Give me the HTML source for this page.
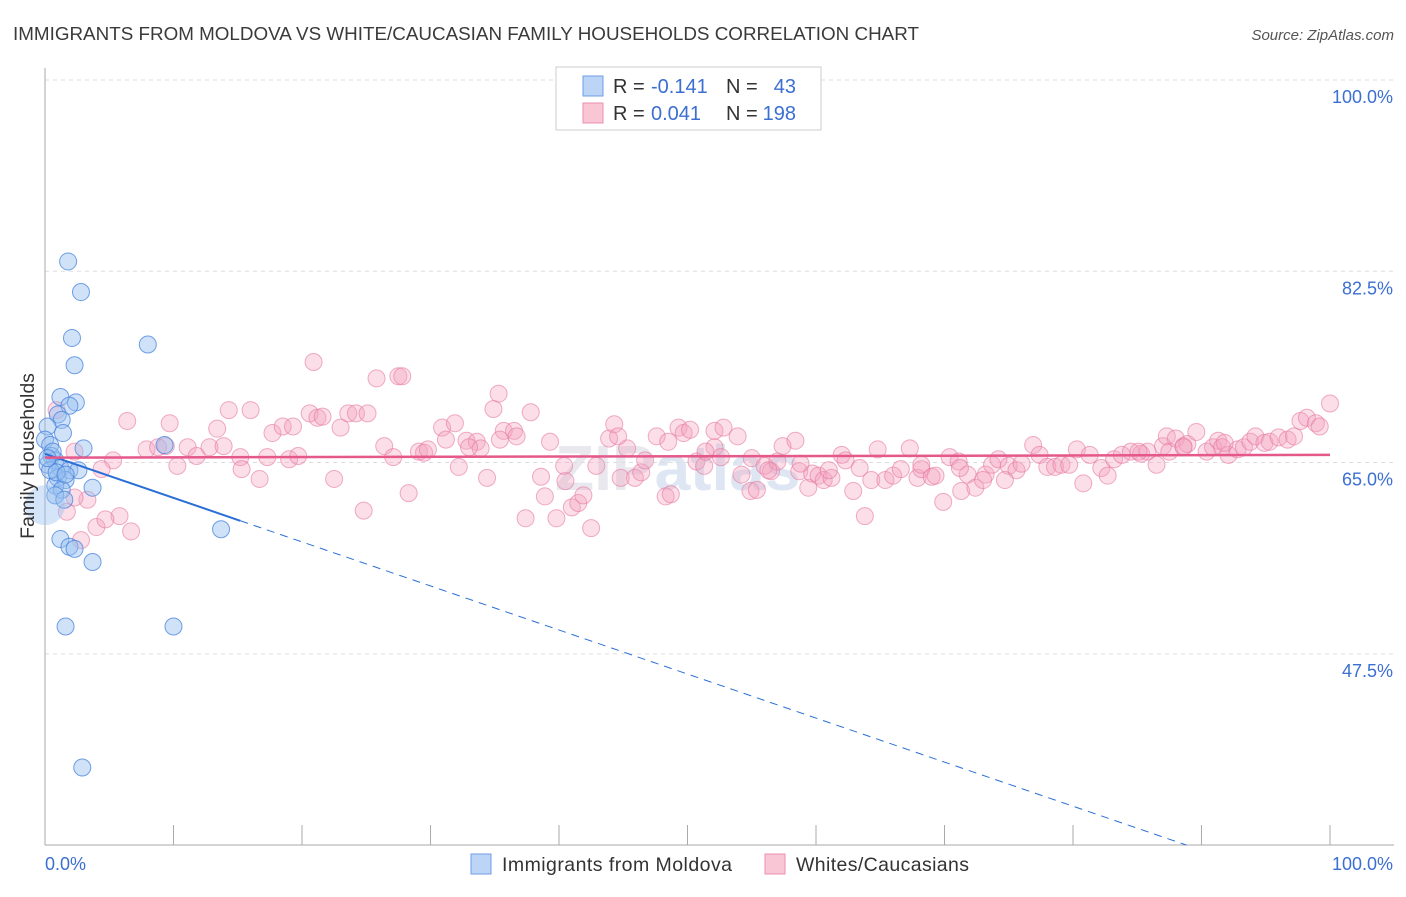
<!DOCTYPE html>
<html><head><meta charset="utf-8"><style>
body{margin:0;background:#fff;font-family:"Liberation Sans",sans-serif}
svg text{font-family:"Liberation Sans",sans-serif}
</style></head><body>
<svg id="chart" width="1406" height="892" xmlns="http://www.w3.org/2000/svg">
<text x="13" y="40" font-size="18" fill="#3a3a3a" textLength="906" lengthAdjust="spacingAndGlyphs">IMMIGRANTS FROM MOLDOVA VS WHITE/CAUCASIAN FAMILY HOUSEHOLDS CORRELATION CHART</text>
<text x="1394" y="40" font-size="15" fill="#555" text-anchor="end" font-style="italic">Source: ZipAtlas.com</text>
<text x="555" y="490" font-size="64" fill="#e8e8ee" font-weight="bold">ZIP<tspan fill="#dde6f2">atlas</tspan></text>
<g id="grid"></g>
<g id="axes"></g>
<g id="pink"></g>
<g id="blue"></g>
<g id="lines"></g>
<text transform="translate(34,456) rotate(-90)" font-size="19.5" fill="#333" text-anchor="middle">Family Households</text>
<g>
<rect x="556" y="67" width="265" height="63" fill="#fff" stroke="#ccc"/>
<rect x="583" y="76" width="20" height="20" fill="#bcd4f5" stroke="#6e9ee6"/>
<rect x="583" y="103" width="20" height="20" fill="#f9c6d6" stroke="#ec8fae"/>
<text x="613" y="93" font-size="20" fill="#333">R =</text>
<text x="651" y="93" font-size="20" fill="#3b6fd1">-0.141</text>
<text x="726" y="93" font-size="20" fill="#333">N =</text>
<text x="796" y="93" font-size="20" fill="#3b6fd1" text-anchor="end">43</text>
<text x="613" y="120" font-size="20" fill="#333">R =</text>
<text x="651" y="120" font-size="20" fill="#3b6fd1">0.041</text>
<text x="726" y="120" font-size="20" fill="#333">N =</text>
<text x="796" y="120" font-size="20" fill="#3b6fd1" text-anchor="end">198</text>
</g>
<g>
<rect x="471" y="854" width="20" height="20" fill="#bcd4f5" stroke="#6e9ee6"/>
<text x="502" y="871" font-size="19.5" fill="#333" textLength="230">Immigrants from Moldova</text>
<rect x="765" y="854" width="20" height="20" fill="#f9c6d6" stroke="#ec8fae"/>
<text x="796" y="871" font-size="19.5" fill="#333" textLength="173">Whites/Caucasians</text>
</g>
</svg>
<script>
const yTicks=[100,82.5,65,47.5];
const yTickLabels=["100.0%","82.5%","65.0%","47.5%"];
const blueX=[1.8,2.8,2.1,2.3,8.0,1.2,2.4,1.9,1.0,1.3,1.4,0.2,0,0.4,3.0,0.5,0.8,0.2,1.2,1.9,2.6,1.0,1.6,0.8,1.3,3.7,0.8,1.5,1.2,1.9,2.3,3.7,9.3,13.7,1.6,10.0,2.9,0.4,0.9,1.6,0.6,0.2];
const blueY=[83.4,80.6,76.4,73.9,75.8,71.0,70.5,70.2,69.4,68.9,67.7,68.3,67.1,66.6,66.3,65.6,65.2,64.8,64.5,64.3,64.3,63.6,63.4,62.9,62.5,62.7,62.0,61.6,58.0,57.3,57.1,55.9,66.6,58.9,50.0,50.0,37.1,64.3,64.1,63.9,66.0,65.4];
const blueBigX=[0]; const blueBigY=[61.1];
const pinkX=[6.4,5.3,4.4,2.3,0.9,1.7,4.0,5.8,6.7,4.7,3.3,2.3,2.8,7.9,8.8,9.7,9.4,10.3,11.1,11.8,12.8,13.9,13.4,14.3,15.2,15.3,16.0,16.7,17.7,17.3,18.5,19.3,19.0,19.7,20.6,20.9,21.2,21.6,22.5,23.0,23.6,24.2,25.1,24.8,25.8,26.4,27.1,27.5,27.8,28.3,29.1,29.5,29.8,30.9,31.2,31.9,32.2,32.8,33.6,33.9,34.4,34.9,35.3,35.7,36.5,36.7,37.8,37.4,38.9,39.3,39.8,40.4,40.5,41.0,41.5,41.9,42.5,42.9,43.9,44.3,44.8,45.3,45.9,46.4,46.7,47.6,48.3,48.7,49.3,49.7,50.2,50.7,51.3,52.1,52.1,52.6,52.8,53.9,54.2,54.9,55.0,55.4,56.0,56.5,57.0,57.4,58.4,58.7,59.4,59.7,60.2,60.6,61.2,62.0,62.3,62.9,63.8,64.3,64.8,65.4,66.0,66.6,67.3,67.9,68.2,69.0,69.3,69.9,70.4,71.1,71.3,71.8,72.4,73.2,73.7,74.2,75.0,75.6,76.0,76.9,77.4,78.0,78.6,79.1,80.3,80.8,81.3,82.2,82.7,83.2,83.8,84.5,85.3,85.8,86.5,87.0,87.3,87.5,88.0,88.6,88.9,89.6,90.4,90.9,91.3,91.6,92.1,92.8,93.3,93.8,94.2,94.9,95.3,96.0,96.7,97.2,97.7,98.2,98.9,100.0,99.2,91.8,88.6,85.1,79.7,74.7,73.0,71.2,68.2,63.4,61.0,58.8,56.3,51.4,48.5,44.6,38.6,35.4,33.0];
const pinkY=[68.8,65.2,64.4,66.0,69.8,60.5,59.1,60.1,58.7,59.8,61.6,61.8,57.9,66.2,66.4,68.6,66.5,64.7,66.4,65.6,66.4,66.5,68.1,69.8,65.5,64.4,69.8,63.5,67.7,65.5,68.3,68.3,65.3,65.6,69.5,74.2,69.1,69.2,63.5,68.2,69.5,69.5,69.5,60.6,72.7,66.5,65.5,72.9,72.9,62.2,66.0,65.9,66.2,68.2,67.1,68.6,64.6,67.0,66.9,66.3,63.6,69.9,71.3,67.9,67.9,67.4,69.6,59.9,61.9,66.9,59.9,64.7,63.3,60.9,61.3,62.0,59.0,64.7,67.2,68.5,63.6,66.3,63.6,64.1,65.2,67.4,61.9,62.1,68.2,67.7,68.0,65.1,64.7,66.4,67.9,65.5,68.2,67.4,63.9,62.4,65.4,62.5,64.7,64.2,65.1,66.5,67.0,64.2,62.7,64.0,63.8,63.4,63.6,65.7,65.2,62.4,60.1,63.4,66.2,63.4,63.8,64.4,66.3,63.6,64.4,63.7,63.8,61.4,65.5,65.1,62.4,63.9,62.7,63.9,64.8,65.3,64.7,64.3,64.9,66.6,65.7,64.6,64.6,64.8,66.2,63.1,65.7,64.5,63.8,65.3,65.7,66.0,65.8,66.0,64.8,66.5,67.4,66.0,67.2,66.5,66.7,67.8,66.0,66.4,67.0,66.4,65.7,66.2,66.4,66.9,67.4,66.8,66.9,67.3,67.1,67.4,68.8,69.1,68.6,70.4,68.3,66.8,66.4,66.0,64.8,63.4,63.4,64.5,64.8,64.5,64.3,64.9,64.3,66.0,66.9,67.4,63.7,67.1,66.4];
const blueTrend=[65.8,-0.403]; // intercept, slope
const pinkTrend=[65.45,0.0025];
const NS='http://www.w3.org/2000/svg';
const X=v=>45+v*12.85, Y=v=>80+(100-v)*10.93;
function mk(tag,attrs,parent){const e=document.createElementNS(NS,tag);for(const k in attrs)e.setAttribute(k,attrs[k]);document.getElementById(parent).appendChild(e);return e;}
yTicks.forEach((t,i)=>{
 const l=mk('line',{x1:45,x2:1394,y1:Y(t),y2:Y(t),stroke:'#ddd','stroke-dasharray':'4,4'},'grid');
 
 
 const tx=mk('text',{x:1393,y:Y(t)+23,'font-size':18,fill:'#3b6fd1','text-anchor':'end'},'grid');
 tx.textContent=yTickLabels[i];
 
 
});
const ax=mk('line',{x1:45,x2:45,y1:68,y2:845,stroke:'#aaa'},'axes');


const bx=mk('line',{x1:45,x2:1394,y1:845,y2:845,stroke:'#aaa'},'axes');


for(let i=0;i<=10;i++){const t=mk('line',{x1:X(i*10),x2:X(i*10),y1:825,y2:845,stroke:'#aaa'},'axes');
 
 }
[["0.0%",45,'start'],["100.0%",1393,'end']].forEach(a=>{const t=mk('text',{x:a[1],y:870,'font-size':18,fill:'#3b6fd1','text-anchor':a[2]},'axes');t.textContent=a[0];
 
 });
pinkX.forEach((x,i)=>{const c=mk('circle',{cx:X(x),cy:Y(pinkY[i]),r:8.5,fill:'rgba(244,160,190,0.35)',stroke:'rgba(230,120,160,0.6)','stroke-width':1},'pink');
 
 });
blueX.forEach((x,i)=>{const c=mk('circle',{cx:X(x),cy:Y(blueY[i]),r:8.5,fill:'rgba(150,190,240,0.45)',stroke:'rgba(70,130,220,0.75)','stroke-width':1},'blue');
 
 });
blueBigX.forEach((x,i)=>{const c=mk('circle',{cx:X(x),cy:Y(blueBigY[i]),r:20,fill:'rgba(150,190,240,0.4)',stroke:'none'},'blue');
 
 });
const bY=x=>blueTrend[0]+blueTrend[1]*x;
const xEnd=Math.min((30-blueTrend[0])/blueTrend[1],100);
const b1=mk('line',{x1:X(0),y1:Y(bY(0)),x2:X(15.2),y2:Y(bY(15.2)),stroke:'#2b6fd6','stroke-width':2},'lines');


const b2=mk('line',{x1:X(15.2),y1:Y(bY(15.2)),x2:X(xEnd),y2:Y(bY(xEnd)),stroke:'#2b6fd6','stroke-width':1,'stroke-dasharray':'8,6'},'lines');


const p1=mk('line',{x1:X(0),y1:Y(pinkTrend[0]),x2:X(100),y2:Y(pinkTrend[0]+pinkTrend[1]*100),stroke:'#e5588a','stroke-width':2.5},'lines');


</script>
</body></html>
